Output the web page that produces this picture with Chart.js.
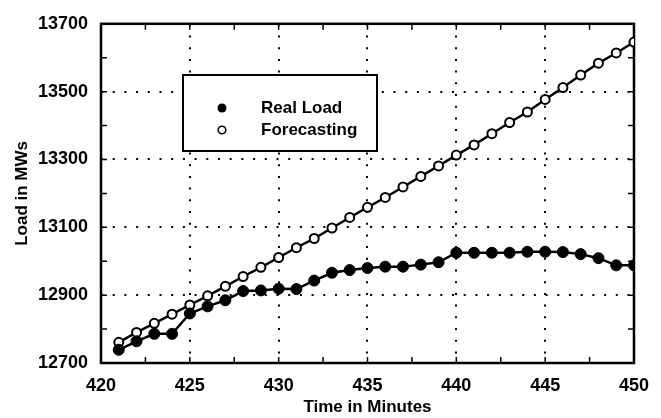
<!DOCTYPE html>
<html><head><meta charset="utf-8">
<script src="https://cdn.jsdelivr.net/npm/chart.js@4.4.0/dist/chart.umd.min.js"></script>
<style>html,body{margin:0;padding:0;background:#fff}</style>
</head><body>
<canvas id="c" width="661" height="418"></canvas>
<script>
const minutes = [421,422,423,424,425,426,427,428,429,430,431,432,433,434,435,436,437,438,439,440,441,442,443,444,445,446,447,448,449,450];
const realLoad = [12739,12764,12786,12786,12846,12867,12885,12912,12914,12919,12918,12943,12966,12974,12980,12984,12984,12990,12997,13025,13025,13025,13025,13028,13028,13027,13021,13009,12988,12988];
const forecasting = [12761,12790,12817,12844,12871,12898,12926,12955,12982,13011,13040,13067,13098,13129,13159,13188,13219,13250,13281,13313,13343,13376,13409,13440,13477,13512,13549,13584,13614,13646];
const seriesNames = ['Real Load', 'Forecasting'];
const xTitle = 'Time in Minutes';
const yTitle = 'Load in MWs';

const FONT = "'Liberation Sans', Arial, Helvetica, sans-serif";

const framePlugin = {
  id: 'frame',
  beforeDraw(chart) {
    const ctx = chart.ctx;
    ctx.save();
    ctx.fillStyle = '#fff';
    ctx.fillRect(0, 0, chart.width, chart.height);
    ctx.restore();
  },
  beforeDatasetsDraw(chart) {
    const {ctx, chartArea: a, scales: {x, y}} = chart;
    ctx.save();
    ctx.strokeStyle = '#000';
    ctx.lineWidth = 1.5;
    ctx.beginPath();
    for (let v = y.min; v <= y.max + 0.01; v += 100) {
      const p = y.getPixelForValue(v);
      ctx.moveTo(a.left, p); ctx.lineTo(a.left + 6, p);
      ctx.moveTo(a.right, p); ctx.lineTo(a.right - 6, p);
    }
    for (let v = x.min; v <= x.max + 0.01; v += 2.5) {
      const p = x.getPixelForValue(v);
      ctx.moveTo(p, a.bottom); ctx.lineTo(p, a.bottom - 6);
      ctx.moveTo(p, a.top); ctx.lineTo(p, a.top + 6);
    }
    ctx.stroke();
    ctx.lineWidth = 2.5;
    ctx.strokeRect(a.left, a.top, a.right - a.left, a.bottom - a.top);
    ctx.restore();
  },
  afterDraw(chart) {
    const ctx = chart.ctx;
    ctx.save();
    ctx.fillStyle = '#fff';
    ctx.fillRect(183, 75, 194, 76);
    ctx.strokeStyle = '#000';
    ctx.lineWidth = 2;
    ctx.strokeRect(183, 75, 194, 76);
    const rows = [108, 130];
    chart.data.datasets.forEach((ds, i) => {
      const yy = rows[i];
      ctx.beginPath();
      ctx.arc(222, yy, i === 0 ? 4.5 : 3.8, 0, Math.PI * 2);
      if (i === 0) { ctx.fillStyle = '#000'; ctx.fill(); }
      else { ctx.fillStyle = '#fff'; ctx.fill(); ctx.lineWidth = 1.6; ctx.strokeStyle = '#000'; ctx.stroke(); }
      ctx.fillStyle = '#000';
      ctx.font = 'bold 17px ' + FONT;
      ctx.textBaseline = 'middle';
      ctx.textAlign = 'left';
      ctx.fillText(ds.label, 261, yy);
    });
    ctx.restore();
  }
};

new Chart(document.getElementById('c'), {
  type: 'line',
  data: {
    datasets: [
      {
        label: seriesNames[0],
        data: minutes.map((m, i) => ({x: m, y: realLoad[i]})),
        borderColor: '#000', borderWidth: 2.5,
        pointRadius: 5.5, pointBackgroundColor: '#000', pointBorderColor: '#000', pointBorderWidth: 1,
        tension: 0
      },
      {
        label: seriesNames[1],
        data: minutes.map((m, i) => ({x: m, y: forecasting[i]})),
        borderColor: '#000', borderWidth: 2.5,
        pointRadius: 4.5, pointBackgroundColor: '#fff', pointBorderColor: '#000', pointBorderWidth: 2,
        tension: 0
      }
    ]
  },
  options: {
    responsive: false,
    devicePixelRatio: 1,
    animation: false,
    layout: {padding: {top: 17, right: 22, left: 0, bottom: 0}},
    plugins: {legend: {display: false}, tooltip: {enabled: false}},
    scales: {
      x: {
        type: 'linear', min: 420, max: 450,
        afterFit(s) { s.height = 55; },
        ticks: {stepSize: 5, autoSkip: false, padding: 12, color: '#000', font: {family: FONT, size: 18, weight: 'bold'}, callback: v => String(v)},
        grid: {color: '#000', lineWidth: 2, drawTicks: false},
        border: {display: false, dash: [2, 9.7]},
        title: {display: true, text: xTitle, color: '#000', font: {family: FONT, size: 17, weight: 'bold'}, padding: {top: 0, bottom: 0}}
      },
      y: {
        type: 'linear', min: 12700, max: 13700,
        afterFit(s) { s.width = 101; },
        ticks: {stepSize: 200, autoSkip: false, padding: 13, color: '#000', font: {family: FONT, size: 18, weight: 'bold'}, callback: v => String(v)},
        grid: {color: '#000', lineWidth: 2, drawTicks: false},
        border: {display: false, dash: [2, 9.7]},
        title: {display: true, text: yTitle, color: '#000', font: {family: FONT, size: 17, weight: 'bold'}, padding: {top: 12, bottom: 0}}
      }
    }
  },
  plugins: [framePlugin]
});
</script>
</body></html>
